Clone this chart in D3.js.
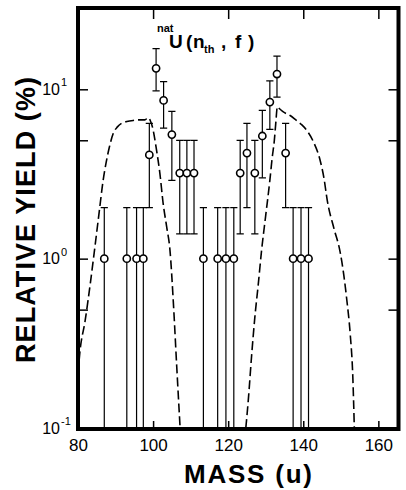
<!DOCTYPE html>
<html>
<head>
<meta charset="utf-8">
<script src="https://cdn.jsdelivr.net/npm/d3@7"></script>
<style>
  html, body { margin: 0; padding: 0; background: #fff; }
  svg { display: block; font-family: "Liberation Sans", Arial, sans-serif; }
</style>
</head>
<body>
<svg id="chart" width="406" height="490"></svg>
<script>
// Measured fission-product yields for natU(n_th, f)
const masses    = [87, 93, 95.6, 97.4, 99, 100.8, 102.8, 105, 107.1, 109, 110.9, 113.4,
                   117.2, 119.4, 121.5, 123.2, 125, 127.1, 129.1, 131.1, 133, 135.3, 137.3, 139.4, 141.4];
const yields    = [1.0, 1.0, 1.0, 1.0, 4.1, 13.3, 8.6, 5.4, 3.2, 3.2, 3.2, 1.0,
                   1.0, 1.0, 1.0, 3.2, 4.2, 3.2, 5.3, 8.4, 12.3, 4.2, 1.0, 1.0, 1.0];
const yieldLow  = [0, 0, 0, 0, 2.0, 9.8, 5.9, 2.9, 1.4, 1.4, 1.4, 0,
                   0, 0, 0, 1.4, 2.0, 1.4, 3.0, 5.8, 9.0, 2.0, 0, 0, 0];
const yieldHigh = [2.0, 2.0, 2.0, 2.0, 6.3, 17.4, 11.1, 7.4, 5.0, 5.0, 5.0, 2.0,
                   2.0, 2.0, 2.0, 5.0, 6.3, 5.0, 7.5, 11.2, 15.7, 6.3, 2.0, 2.0, 2.0];

// Calculated mass distribution (light and heavy wings)
const calcLightMass  = [80.0, 80.5, 81.9, 83.3, 84.5, 85.6, 86.7, 87.5, 88.3, 89.4, 90.5, 91.6, 93.0,
                        94.7, 96.5, 97.8, 98.7, 99.3, 99.9, 100.9, 101.8, 102.7, 103.6, 104.5, 105.4, 106.3, 107.2];
const calcLightYield = [0.21, 0.28, 0.43, 0.72, 1.17, 1.85, 2.9, 3.7, 4.5, 5.5, 6.0, 6.3, 6.45,
                        6.55, 6.6, 6.6, 6.8, 6.5, 5.9, 4.4, 3.2, 2.1, 1.55, 1.12, 0.55, 0.23, 0.1];
const calcHeavyMass  = [124.7, 125.4, 126.2, 127.1, 128.0, 128.9, 130.0, 131.1, 131.7, 132.3, 132.7, 133.1,
                        133.6, 134.5, 136.5, 138.0, 139.5, 141.0, 142.7, 144.5, 145.5, 146.4, 148.2, 149.8,
                        150.8, 151.6, 152.5, 153.2, 153.6];
const calcHeavyYield = [0.1, 0.15, 0.26, 0.45, 0.7, 1.12, 1.8, 2.9, 3.9, 5.0, 6.4, 7.9,
                        7.7, 7.4, 7.0, 6.6, 6.2, 5.7, 4.9, 3.8, 3.0, 2.2, 1.5, 1.1,
                        0.8, 0.57, 0.36, 0.2, 0.1];

const xTickValues  = [80, 100, 120, 140, 160];
const xTickMarks   = [100, 120, 140, 160];
const yTickMarks   = [0.5, 1, 5, 10];
const yLabelPowers = [-1, 0, 1];

const svg = d3.select("#chart");
svg.append("rect").attr("width", 406).attr("height", 490).attr("fill", "#fff");

const plot = { left: 78, right: 398.5, top: 8, bottom: 429 };
const x = d3.scaleLinear().domain([80, 165.5]).range([78, 399]);
const y = d3.scaleLog().domain([0.1, 30]).range([428, 8.5]);

svg.append("defs").append("clipPath").attr("id", "plotClip")
  .append("rect")
  .attr("x", plot.left).attr("y", plot.top)
  .attr("width", plot.right - plot.left).attr("height", plot.bottom - plot.top);

const inner = svg.append("g").attr("clip-path", "url(#plotClip)");

// dashed calculated curves
const line = d3.line()
  .x(d => x(d[0]))
  .y(d => y(d[1]))
  .curve(d3.curveMonotoneX);

[[calcLightMass, calcLightYield], [calcHeavyMass, calcHeavyYield]].forEach(([m, v]) => {
  inner.append("path")
    .datum(m.map((d, i) => [d, v[i]]))
    .attr("d", line)
    .attr("fill", "none")
    .attr("stroke", "#000")
    .attr("stroke-width", 1.6)
    .attr("stroke-dasharray", "9,4");
});

// error bars
const pts = masses.map((m, i) => ({ m, v: yields[i], lo: yieldLow[i], hi: yieldHigh[i] }));
const yClamp = v => y(Math.max(v, 0.1));
const capHalf = 3.6;

const bars = inner.append("g").attr("stroke", "#000").attr("stroke-width", 1.2);
bars.selectAll("line.bar").data(pts).join("line")
  .attr("class", "bar")
  .attr("x1", d => x(d.m)).attr("x2", d => x(d.m))
  .attr("y1", d => yClamp(d.lo) + (d.lo > 0.1 ? 0 : 4))
  .attr("y2", d => y(d.hi));
bars.selectAll("line.capHi").data(pts).join("line")
  .attr("class", "capHi")
  .attr("x1", d => x(d.m) - capHalf).attr("x2", d => x(d.m) + capHalf)
  .attr("y1", d => y(d.hi)).attr("y2", d => y(d.hi));
bars.selectAll("line.capLo").data(pts.filter(d => d.lo > 0.1)).join("line")
  .attr("class", "capLo")
  .attr("x1", d => x(d.m) - capHalf).attr("x2", d => x(d.m) + capHalf)
  .attr("y1", d => y(d.lo)).attr("y2", d => y(d.lo));

// data points
inner.selectAll("circle").data(pts).join("circle")
  .attr("cx", d => x(d.m)).attr("cy", d => y(d.v))
  .attr("r", 3.6)
  .attr("fill", "#fff")
  .attr("stroke", "#000")
  .attr("stroke-width", 1.6);

// tick marks on all four sides
function styleAxis(g) {
  g.select(".domain").remove();
  g.selectAll(".tick line").attr("stroke", "#000").attr("stroke-width", 1.5);
}
svg.append("g").attr("transform", `translate(${plot.left},0)`)
  .call(d3.axisLeft(y).tickValues(yTickMarks).tickSize(-10).tickFormat(""))
  .call(styleAxis);
svg.append("g").attr("transform", `translate(${plot.right},0)`)
  .call(d3.axisRight(y).tickValues(yTickMarks).tickSize(-10).tickFormat(""))
  .call(styleAxis);
svg.append("g").attr("transform", `translate(0,${plot.top})`)
  .call(d3.axisTop(x).tickValues(xTickMarks).tickSize(-11).tickFormat(""))
  .call(styleAxis);
const xAxis = svg.append("g").attr("transform", `translate(0,${plot.bottom})`)
  .call(d3.axisBottom(x).tickValues(xTickValues).tickSize(-8).tickPadding(10).tickFormat(d3.format("d")))
  .call(styleAxis);
xAxis.selectAll(".tick text")
  .attr("fill", "#000")
  .attr("font-size", 17)
  .attr("font-family", "Liberation Sans, Arial, sans-serif");

// y tick labels as powers of ten
const yLab = svg.append("g").attr("font-family", "Liberation Sans, Arial, sans-serif").attr("fill", "#000");
yLabelPowers.forEach(p => {
  const v = Math.pow(10, p);
  yLab.append("text")
    .attr("x", 60).attr("y", y(v)).attr("dy", "0.36em")
    .attr("text-anchor", "end").attr("font-size", 16)
    .text("10");
  yLab.append("text")
    .attr("x", 61).attr("y", y(v) - 3)
    .attr("text-anchor", "start").attr("font-size", 11)
    .text(p < 0 ? "-" + Math.abs(p) : String(p));
});

// frame
svg.append("rect")
  .attr("x", plot.left).attr("y", plot.top)
  .attr("width", plot.right - plot.left).attr("height", plot.bottom - plot.top)
  .attr("fill", "none").attr("stroke", "#000").attr("stroke-width", 4);

// reaction label: natU (n_th, f)
const title = svg.append("g")
  .attr("font-family", "Liberation Sans, Arial, sans-serif")
  .attr("font-weight", "bold")
  .attr("fill", "#000");
const titleParts = [
  { t: "nat", x: 157, y: 32, s: 11 },
  { t: "U",   x: 169, y: 48, s: 19 },
  { t: "(",   x: 186, y: 48, s: 19 },
  { t: "n",   x: 193, y: 48, s: 19 },
  { t: "th",  x: 204, y: 53, s: 11 },
  { t: ",",   x: 221, y: 48, s: 19 },
  { t: "f",   x: 235, y: 48, s: 19 },
  { t: ")",   x: 248, y: 48, s: 19 }
];
title.selectAll("text").data(titleParts).join("text")
  .attr("x", d => d.x).attr("y", d => d.y)
  .attr("font-size", d => d.s)
  .text(d => d.t);

// axis titles
svg.append("text")
  .attr("transform", "translate(35,220) rotate(-90)")
  .attr("text-anchor", "middle")
  .attr("font-family", "Liberation Sans, Arial, sans-serif")
  .attr("font-weight", "bold")
  .attr("font-size", 27)
  .attr("textLength", 286)
  .attr("lengthAdjust", "spacing")
  .text("RELATIVE YIELD (%)");

svg.append("text")
  .attr("x", 248).attr("y", 483)
  .attr("text-anchor", "middle")
  .attr("font-family", "Liberation Sans, Arial, sans-serif")
  .attr("font-weight", "bold")
  .attr("font-size", 26)
  .attr("textLength", 128)
  .attr("lengthAdjust", "spacing")
  .text("MASS (u)");
</script>
</body>
</html>
